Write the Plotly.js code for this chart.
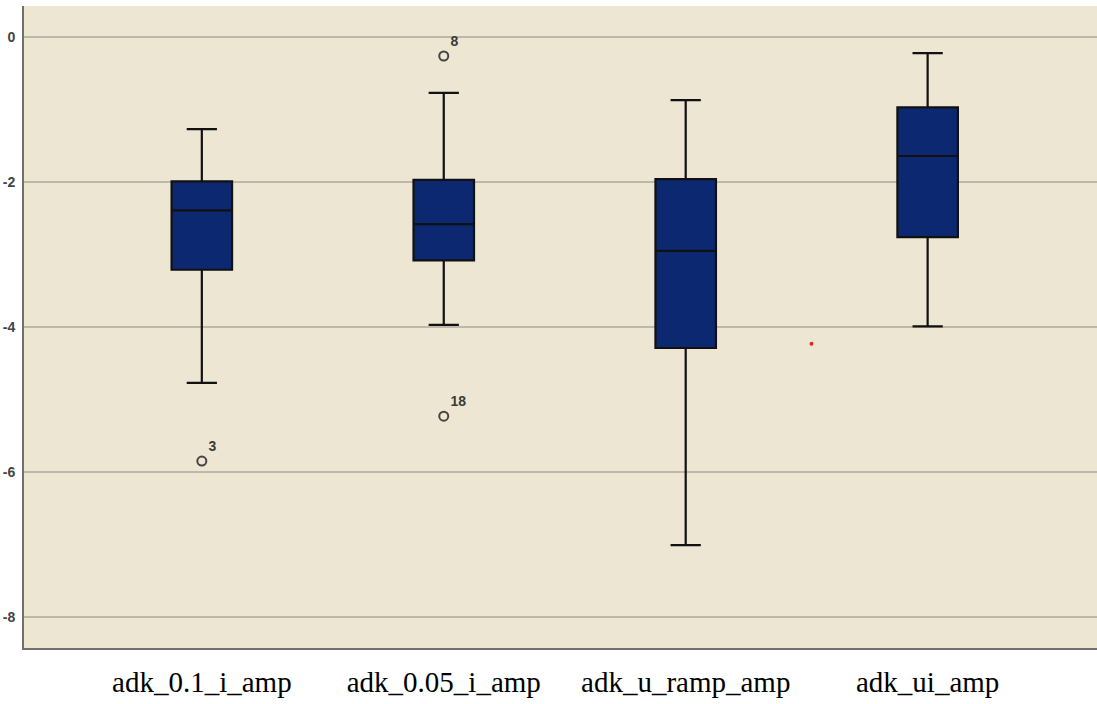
<!DOCTYPE html>
<html><head><meta charset="utf-8">
<script src="https://cdn.plot.ly/plotly-3.0.1.min.js"></script>
<style>html,body{margin:0;padding:0;background:#fff;}#chart{width:1097px;height:704px;}</style>
</head><body><div id="chart"></div>
<script>
const categories = ["adk_0.1_i_amp", "adk_0.05_i_amp", "adk_u_ramp_amp", "adk_ui_amp"];
const positions = [0, 1, 2, 3];
const q1 = [-3.21, -3.08, -4.29, -2.76];
const median = [-2.39, -2.58, -2.95, -1.64];
const q3 = [-1.99, -1.97, -1.96, -0.97];
const lowerWhisker = [-4.77, -3.97, -7.01, -3.99];
const upperWhisker = [-1.27, -0.77, -0.87, -0.22];
const outlierX = [0, 1, 1];
const outlierY = [-5.85, -0.26, -5.23];
const outlierLabels = ["3", "8", "18"];
const strayX = [2.52];
const strayY = [-4.23];
const yTicks = [0, -2, -4, -6, -8];
const yTickLabels = ["0", "-2", "-4", "-6", "-8"];

const traces = [{
  type: "box",
  x: positions,
  q1: q1, median: median, q3: q3,
  lowerfence: lowerWhisker, upperfence: upperWhisker,
  fillcolor: "#0c2870",
  line: {color: "#111111", width: 2.2},
  width: 0.25,
  whiskerwidth: 0.5,
  boxpoints: false,
  hoverinfo: "skip",
  showlegend: false
}, {
  type: "scatter",
  mode: "markers+text",
  x: outlierX, y: outlierY,
  text: outlierLabels,
  textposition: "top right",
  textfont: {family: "Arial", size: 14, color: "#3a3a3a", weight: "bold"},
  marker: {symbol: "circle-open", size: 9, color: "#444", line: {width: 2, color: "#444"}},
  showlegend: false, cliponaxis: false
}, {
  type: "scatter",
  mode: "markers",
  x: strayX, y: strayY,
  marker: {size: 4, color: "#e0262e"},
  showlegend: false
}];

const layout = {
  width: 1097, height: 704,
  margin: {l: 24, r: 0, t: 6, b: 56},
  paper_bgcolor: "#ffffff",
  plot_bgcolor: "#ede6d3",
  xaxis: {
    type: "linear",
    range: [-0.735, 3.70],
    tickvals: positions, ticktext: categories,
    showgrid: false, zeroline: false,
    showline: true, linecolor: "#707070", linewidth: 2,
    ticks: "",
    tickfont: {family: "Liberation Serif, Times New Roman, serif", size: 29, color: "#000"},
    ticklabelstandoff: 7
  },
  yaxis: {
    range: [-8.43, 0.43],
    tickvals: yTicks, ticktext: yTickLabels,
    showgrid: true, gridcolor: "#bdb8aa", gridwidth: 1.5,
    zeroline: false,
    showline: true, linecolor: "#707070", linewidth: 2,
    ticks: "",
    tickfont: {family: "Arial", size: 14, color: "#444", weight: "bold"},
    ticklabelstandoff: 4
  }
};
Plotly.newPlot("chart", traces, layout, {displayModeBar: false, staticPlot: true});
</script></body></html>
